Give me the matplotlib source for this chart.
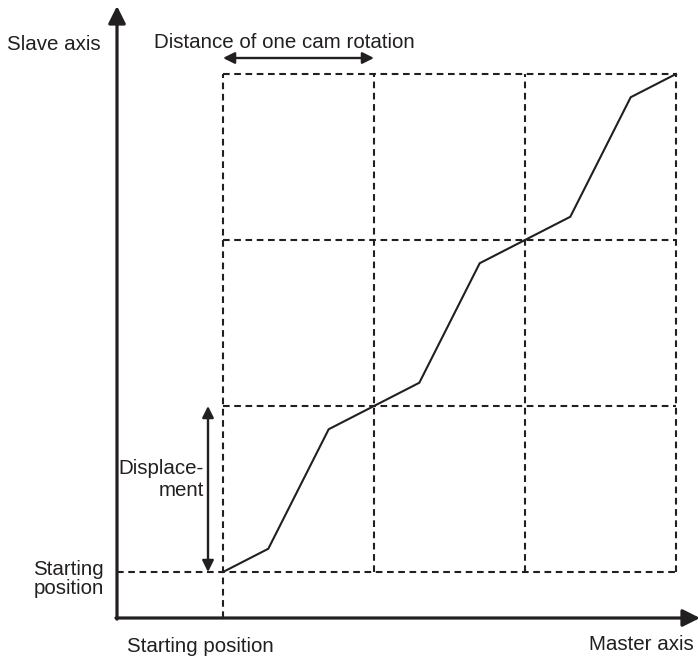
import matplotlib
matplotlib.use("Agg")
import matplotlib.pyplot as plt

# cam profile: master vs slave, in units of one cam rotation / one displacement
master = [0, 0.3, 0.7, 1, 1.3, 1.7, 2, 2.3, 2.7, 3]
slave = [0, 0.14, 0.86, 1, 1.14, 1.86, 2, 2.14, 2.86, 3]
grid_x = [0, 1, 2, 3]
grid_y = [0, 1, 2, 3]

INK = "#231f20"
plt.rcParams["font.family"] = ["Liberation Sans", "DejaVu Sans"]

# layout: pixel position of the (0, 0) point and size of one cell
X0, Y0, CW, CH = 223, 572, 151, 166
W, H = 700, 657


def px(x, y):
    # pixel position -> data position
    return (x - X0) / CW, (Y0 - y) / CH


fig = plt.figure(figsize=(W / 100, H / 100), dpi=100)
ax = fig.add_axes([0, 0, 1, 1])
ax.set_xlim(px(0, 0)[0], px(W, 0)[0])
ax.set_ylim(px(0, H)[1], px(0, 0)[1])
ax.axis("off")

ax_x, ax_y = px(117, 618)

# axes with arrows
arr = dict(arrowstyle="-|>", color=INK, lw=2.3, mutation_scale=26,
           shrinkA=0, shrinkB=0)
ax.annotate("", xy=px(117, 6), xytext=(ax_x, ax_y - 0.007), arrowprops=arr)
ax.annotate("", xy=px(700, 618), xytext=(ax_x - 0.007, ax_y), arrowprops=arr)

# dashed grid
dash = dict(color=INK, lw=1.5, dashes=(3.2, 2.2))
for gx in grid_x:
    lo = ax_y if gx == 0 else 0
    ax.plot([gx, gx], [lo, grid_y[-1]], **dash)
for gy in grid_y:
    lo = ax_x if gy == 0 else 0
    ax.plot([lo, grid_x[-1]], [gy, gy], **dash)

# cam curve
ax.plot(master, slave, color=INK, lw=1.5, solid_joinstyle="miter")

# double arrows
darr = dict(arrowstyle="<|-|>", color=INK, lw=1.7, mutation_scale=17,
            shrinkA=0, shrinkB=0)
ax.annotate("", xy=(grid_x[0], px(0, 58)[1]), xytext=(grid_x[1], px(0, 58)[1]),
            arrowprops=darr)
dx = px(208, 0)[0]
ax.annotate("", xy=(dx, grid_y[0]), xytext=(dx, grid_y[1]), arrowprops=darr)

fs = 14.8
ax.text(*px(7, 45), "Slave axis", fontsize=fs, color=INK, ha="left", va="center")
ax.text(*px(154, 43), "Distance of one cam rotation", fontsize=fs, color=INK,
        ha="left", va="center")
ax.text(*px(204, 479), "Displace-\nment", fontsize=fs, color=INK, ha="right",
        va="center", multialignment="right", linespacing=1.2)
ax.text(*px(104, 579), "Starting\nposition", fontsize=fs, color=INK, ha="right",
        va="center", multialignment="right", linespacing=1.0)
ax.text(*px(127, 646), "Starting position", fontsize=fs, color=INK, ha="left",
        va="center")
ax.text(*px(694, 645), "Master axis", fontsize=fs, color=INK, ha="right",
        va="center")

fig.savefig("out.png", dpi=100)
